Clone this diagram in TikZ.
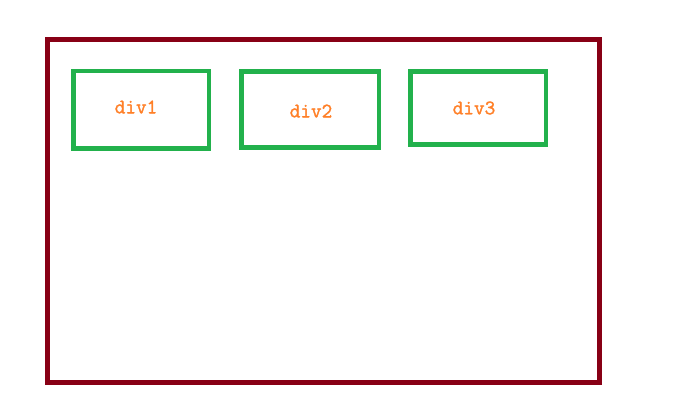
\documentclass[tikz,border=0pt]{standalone}
\usepackage{fontspec}
\newfontfamily\labelfont[FakeBold=1.5]{Latin Modern Mono}
\definecolor{wrapred}{HTML}{880015}
\definecolor{boxgreen}{HTML}{22B14C}
\definecolor{labelorange}{HTML}{FF7F27}
\begin{document}
\begin{tikzpicture}[x=0.75pt,y=-0.75pt,
    wrapbox/.style={draw=wrapred, line width=3.75pt, inner sep=0pt},
    divbox/.style={draw=boxgreen, line width=3.5pt, inner sep=0pt},
    divtext/.style={text=labelorange, inner sep=0pt, font=\labelfont\fontsize{15.5}{18}\selectfont}]
    \useasboundingbox (0,0) rectangle (679,417);

    \node[wrapbox, minimum width=413.8pt, minimum height=257.3pt] (wrap) at (323.35,211) {};

    \node[divbox, minimum width=101.6pt, minimum height=58.1pt] (div1box) at (141.25,109.75) {};
    \node[divbox, minimum width=103.1pt, minimum height=56.9pt] (div2box) at (310.25,109.6) {};
    \node[divbox, minimum width=101.3pt, minimum height=54.4pt] (div3box) at (478.3,108) {};

    \node[divtext] (div1) at (136,107) {div1};
    \node[divtext] (div2) at (311,111) {div2};
    \node[divtext] (div3) at (474,108) {div3};
\end{tikzpicture}
\end{document}
